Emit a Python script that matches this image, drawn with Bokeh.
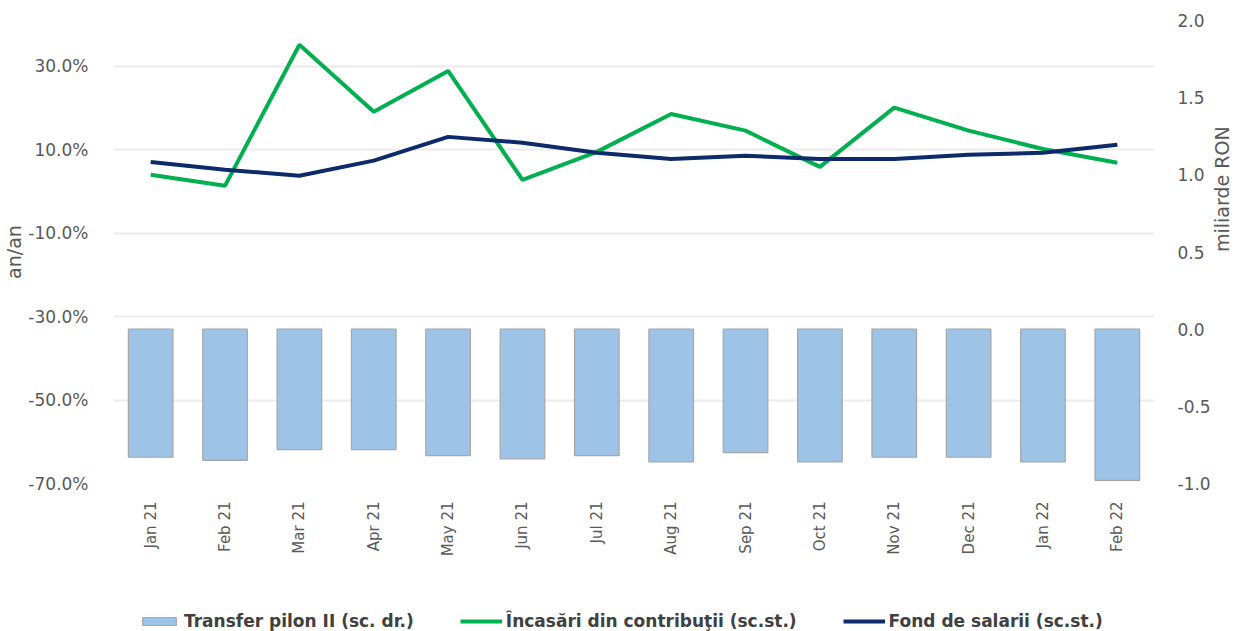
import math
from bokeh.plotting import figure
from bokeh.layouts import column
from bokeh.models import (ColumnDataSource, Range1d, LinearAxis, FixedTicker,
                          CustomJSTickFormatter, Legend, LegendItem, FactorRange)
from bokeh.embed import file_html
from bokeh.resources import INLINE

months = ["Jan 21", "Feb 21", "Mar 21", "Apr 21", "May 21", "Jun 21", "Jul 21",
          "Aug 21", "Sep 21", "Oct 21", "Nov 21", "Dec 21", "Jan 22", "Feb 22"]
transfer_pilon = [-0.83, -0.85, -0.78, -0.78, -0.82, -0.84, -0.82,
                  -0.86, -0.80, -0.86, -0.83, -0.83, -0.86, -0.98]
incasari = [4.0, 1.4, 35.2, 19.1, 28.9, 2.8, 9.5,
            18.6, 14.6, 5.9, 20.1, 14.6, 10.2, 6.9]
fond_salarii = [7.1, 5.2, 3.8, 7.4, 13.1, 11.7, 9.3,
                7.8, 8.6, 7.8, 7.8, 8.8, 9.3, 11.2]
left_ticks = [30, 10, -10, -30, -50, -70]
right_ticks = [2.0, 1.5, 1.0, 0.5, 0.0, -0.5, -1.0]
series_names = ["Transfer pilon II (sc. dr.)",
                "Încasări din contribuţii (sc.st.)",
                "Fond de salarii (sc.st.)"]

FONT = "DejaVu Sans"
GRAY = "#595959"
BAR_FILL = "#9DC3E6"
BAR_LINE = "#A6A6A6"
GREEN = "#00B050"
NAVY = "#0D2A6B"

src = ColumnDataSource(dict(m=months, t=transfer_pilon, inc=incasari, fs=fond_salarii))

p = figure(frame_width=1041, frame_height=463,
           x_range=FactorRange(*months, range_padding=0),
           y_range=Range1d(-70, 41), output_backend="svg", toolbar_location=None,
           min_border_left=0, min_border_right=0, min_border_top=20,
           min_border_bottom=0)
p.outline_line_color = None
p.extra_y_ranges = {"right": Range1d(-1.0, 2.0)}

p.vbar(x="m", top=0, bottom="t", width=0.6, source=src, y_range_name="right",
       fill_color=BAR_FILL, line_color=BAR_LINE, line_width=1.2)
p.line(x="m", y="inc", source=src, line_color=GREEN, line_width=4)
p.line(x="m", y="fs", source=src, line_color=NAVY, line_width=4)

ya = p.yaxis[0]
ya.ticker = FixedTicker(ticks=left_ticks)
ya.formatter = CustomJSTickFormatter(code="return tick.toFixed(1) + '%';")
ya.axis_line_color = None
ya.major_tick_line_color = None
ya.minor_tick_line_color = None
ya.major_label_text_font = FONT
ya.major_label_text_font_size = "17px"
ya.major_label_text_color = GRAY
ya.major_label_standoff = 19
ya.axis_label = "an/an"
ya.axis_label_text_font = FONT
ya.axis_label_text_font_style = "normal"
ya.axis_label_text_font_size = "19px"
ya.axis_label_text_color = GRAY
ya.axis_label_standoff = 0

ra = LinearAxis(y_range_name="right")
ra.ticker = FixedTicker(ticks=right_ticks)
ra.formatter = CustomJSTickFormatter(code="return tick.toFixed(1);")
ra.axis_line_color = None
ra.major_tick_line_color = None
ra.minor_tick_line_color = None
ra.major_label_text_font = FONT
ra.major_label_text_font_size = "17px"
ra.major_label_text_color = GRAY
ra.major_label_standoff = 17
ra.axis_label = "miliarde RON"
ra.axis_label_orientation = math.pi / 2
ra.axis_label_text_font = FONT
ra.axis_label_text_font_style = "normal"
ra.axis_label_text_font_size = "19px"
ra.axis_label_text_color = GRAY
ra.axis_label_standoff = 8
p.add_layout(ra, "right")

xa = p.xaxis[0]
xa.axis_line_color = None
xa.major_tick_line_color = None
xa.minor_tick_line_color = None
xa.major_label_orientation = math.pi / 2
xa.major_label_text_font = FONT
xa.major_label_text_font_size = "15px"
xa.major_label_text_color = GRAY
xa.major_label_standoff = 12

p.xgrid.grid_line_color = None
p.ygrid.ticker = FixedTicker(ticks=left_ticks)
p.ygrid.grid_line_color = "#EBEBEB"
p.ygrid.grid_line_width = 2

# Legend strip below the chart: same series drawn out of view, used only for legend swatches
lg = figure(frame_width=1224, frame_height=76, x_range=FactorRange(*months),
            y_range=Range1d(1000, 1001),
            output_backend="svg", toolbar_location=None,
            x_axis_location=None, y_axis_location=None,
            min_border_left=0, min_border_right=0, min_border_top=0, min_border_bottom=0)
lg.outline_line_color = None
lg.grid.grid_line_color = None
r_bar = lg.vbar(x="m", top=0, bottom="t", width=0.6, source=src,
                fill_color=BAR_FILL, line_color=BAR_LINE, line_width=1.2)
r_green = lg.line(x="m", y="inc", source=src, line_color=GREEN, line_width=4)
r_navy = lg.line(x="m", y="fs", source=src, line_color=NAVY, line_width=4)

legend = Legend(items=[
    LegendItem(label=series_names[0], renderers=[r_bar]),
    LegendItem(label=series_names[1], renderers=[r_green]),
    LegendItem(label=series_names[2], renderers=[r_navy]),
], orientation="horizontal", location=(138, 4))
legend.label_text_font = FONT
legend.label_text_font_style = "bold"
legend.label_text_font_size = "17px"
legend.label_text_color = "#404040"
legend.border_line_color = None
legend.background_fill_alpha = 0
legend.glyph_width = 42
legend.glyph_height = 10
legend.spacing = 46
legend.label_standoff = 4
legend.margin = 0
legend.padding = 2
lg.add_layout(legend, "center")

layout = column(p, lg, spacing=0)
open("out.html", "w").write(file_html(layout, INLINE))
